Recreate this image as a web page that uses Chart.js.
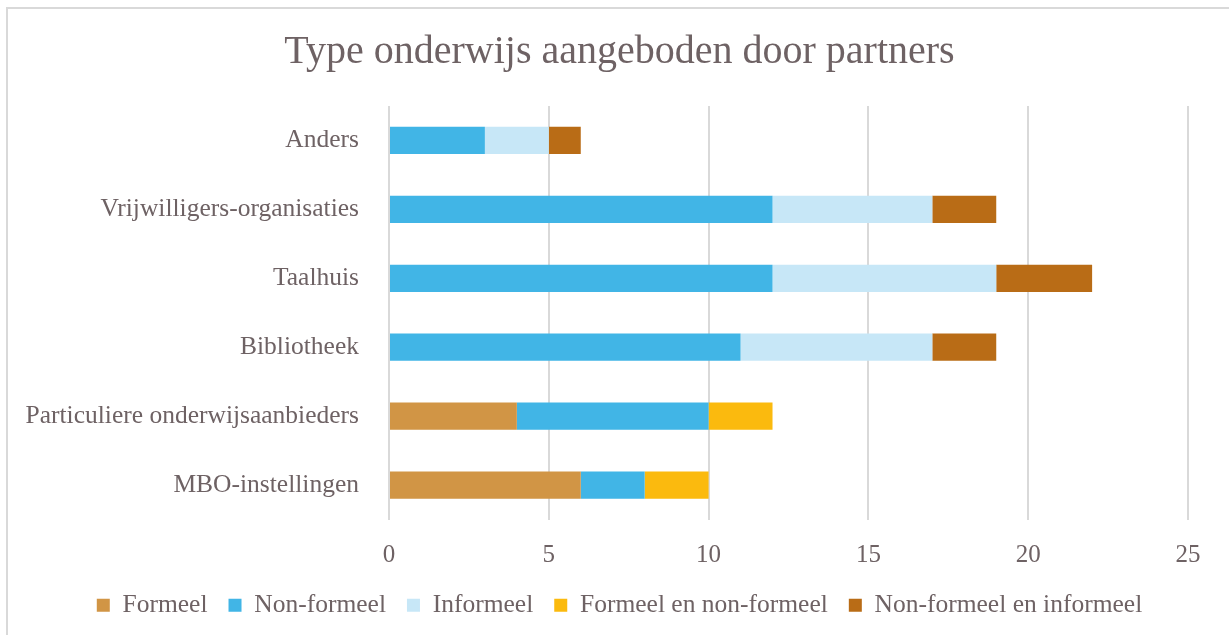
<!DOCTYPE html>
<html>
<head>
<meta charset="utf-8">
<script src="https://cdn.jsdelivr.net/npm/chart.js@4"></script>
<style>
  html, body { margin: 0; padding: 0; background: #fff; }
  #wrap { position: relative; width: 1229px; height: 635px; }
  #frame { position: absolute; left: 6px; top: 7px; right: -10px; bottom: -10px;
           border-left: 2px solid #d9d9d9; border-top: 2px solid #d9d9d9; }
  canvas { position: absolute; left: 0; top: 0; }
</style>
</head>
<body>
<div id="wrap">
  <div id="frame"></div>
  <canvas id="chart" width="1229" height="635"></canvas>
</div>
<script>
// categorieën van boven naar beneden
const categorieen = ['Anders', 'Vrijwilligers-organisaties', 'Taalhuis', 'Bibliotheek',
                     'Particuliere onderwijsaanbieders', 'MBO-instellingen'];
const formeel = [0, 0, 0, 0, 4, 6];
const nonFormeel = [3, 12, 12, 11, 6, 2];
const informeel = [2, 5, 7, 6, 0, 0];
const formeelEnNonFormeel = [0, 0, 0, 0, 2, 2];
const nonFormeelEnInformeel = [1, 2, 3, 2, 0, 0];
const xTicks = [0, 5, 10, 15, 20, 25];

const tekstKleur = '#6e6264';
const lettertype = "'Liberation Serif', 'DejaVu Serif', serif";

const reeks = (label, data, kleur) => ({
    label, data,
    backgroundColor: kleur,
    borderWidth: 0,
    barPercentage: 0.395,
    categoryPercentage: 1
});

new Chart(document.getElementById('chart'), {
    type: 'bar',
    data: {
        labels: categorieen,
        datasets: [
            reeks('Formeel', formeel, '#d19545'),
            reeks('Non-formeel', nonFormeel, '#41b5e6'),
            reeks('Informeel', informeel, '#c7e7f7'),
            reeks('Formeel en non-formeel', formeelEnNonFormeel, '#fbba0e'),
            reeks('Non-formeel en informeel', nonFormeelEnInformeel, '#b96c16')
        ]
    },
    options: {
        indexAxis: 'y',
        responsive: false,
        animation: false,
        layout: { padding: { left: 20, right: 10, top: 0, bottom: 7 } },
        plugins: {
            title: {
                display: true,
                text: 'Type onderwijs aangeboden door partners',
                color: tekstKleur,
                font: { family: lettertype, size: 40, weight: 'normal' },
                padding: { top: 28, bottom: 30 }
            },
            legend: {
                position: 'bottom',
                labels: {
                    color: tekstKleur,
                    font: { family: lettertype, size: 25.5 },
                    boxWidth: 13,
                    boxHeight: 13,
                    padding: 21
                }
            },
            tooltip: { enabled: false }
        },
        scales: {
            x: {
                stacked: true,
                min: 0,
                max: 25,
                afterBuildTicks: (scale) => { scale.ticks = xTicks.map(v => ({ value: v })); },
                afterFit: (scale) => { scale.height = 52; },
                grid: { color: '#d9d9d9', lineWidth: 2, drawTicks: false },
                border: { display: false },
                ticks: {
                    color: tekstKleur,
                    font: { family: lettertype, size: 25 },
                    padding: 21
                }
            },
            y: {
                stacked: true,
                grid: { display: false },
                border: { display: false },
                afterFit: (scale) => { scale.width = 369; },
                ticks: {
                    color: tekstKleur,
                    font: { family: lettertype, size: 25.5 },
                    padding: 22
                }
            },
            // lege as rechts, alleen voor ruimte
            rechts: {
                type: 'linear',
                position: 'right',
                grid: { display: false },
                border: { display: false },
                ticks: { display: false },
                afterFit: (scale) => { scale.width = 31; }
            }
        }
    }
});
</script>
</body>
</html>
